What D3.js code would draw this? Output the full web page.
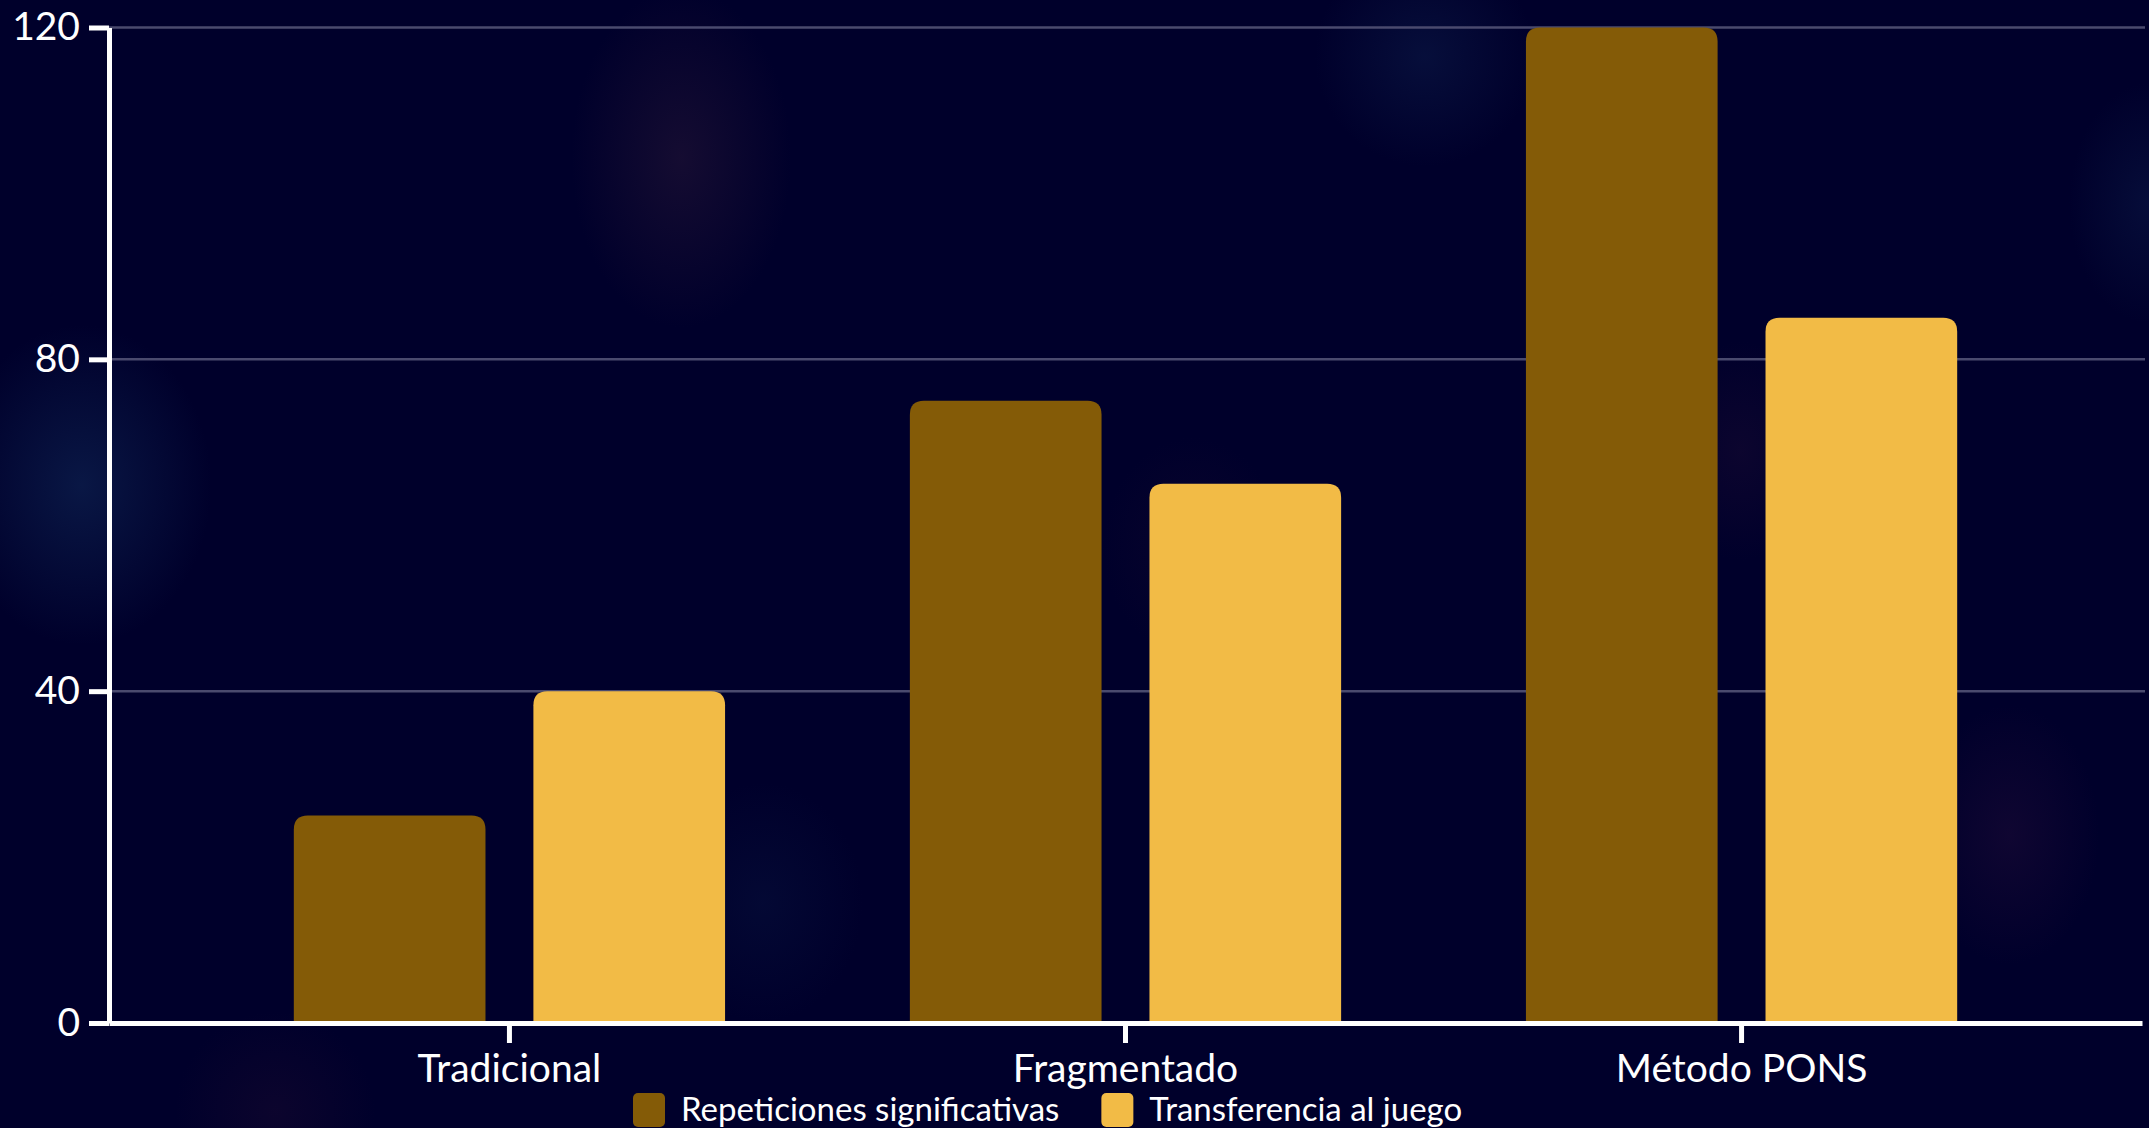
<!DOCTYPE html>
<html lang="es">
<head>
<meta charset="utf-8">
<title>Repeticiones y transferencia por método</title>
<script src="https://cdn.jsdelivr.net/npm/d3@7"></script>
<style>
  html, body { margin: 0; padding: 0; background: #00002b; overflow: hidden; }
  svg { display: block; }
  text { font-family: Lato, "Noto Sans", sans-serif; fill: #ffffff; }
</style>
</head>
<body>
<svg id="chart"></svg>
<script>
// Data
const categories = ["Tradicional", "Fragmentado", "Método PONS"];
const seriesNames = ["Repeticiones significativas", "Transferencia al juego"];
const repeticiones = [25, 75, 120];
const transferencia = [40, 65, 85];
const yTicks = [0, 40, 80, 120];
const seriesColors = ["#845b07", "#f2bb46"];

const W = 2149, H = 1128;
const margin = { top: 27.5, right: 7, bottom: 105, left: 109 };

const svg = d3.select("#chart").attr("width", W).attr("height", H);

// Background with soft nebula glows
const defs = svg.append("defs");
svg.append("rect").attr("width", W).attr("height", H).attr("fill", "#00002b");

const glows = [
  { cx: 0.038, cy: 0.43, rx: 130, ry: 160, color: "#0d2150", a: 0.7 },
  { cx: 0.317, cy: 0.14, rx: 110, ry: 170, color: "#1a0f33", a: 0.8 },
  { cx: 0.663, cy: 0.05, rx: 110, ry: 110, color: "#0c1a48", a: 0.55 },
  { cx: 0.935, cy: 0.74, rx: 90, ry: 130, color: "#1a0a36", a: 0.6 },
  { cx: 0.81, cy: 0.40, rx: 80, ry: 110, color: "#180a32", a: 0.5 },
  { cx: 0.355, cy: 0.80, rx: 100, ry: 120, color: "#0a1845", a: 0.35 },
  { cx: 0.128, cy: 0.985, rx: 100, ry: 100, color: "#1a0a30", a: 0.45 },
  { cx: 0.555, cy: 0.485, rx: 90, ry: 110, color: "#150a30", a: 0.4 },
  { cx: 1.0, cy: 0.18, rx: 80, ry: 120, color: "#0c1a48", a: 0.5 }
];
glows.forEach((g, i) => {
  const grad = defs.append("radialGradient").attr("id", "glow" + i);
  grad.append("stop").attr("offset", "0%").attr("stop-color", g.color).attr("stop-opacity", g.a);
  grad.append("stop").attr("offset", "100%").attr("stop-color", g.color).attr("stop-opacity", 0);
  svg.append("ellipse")
    .attr("cx", g.cx * W).attr("cy", g.cy * H)
    .attr("rx", g.rx).attr("ry", g.ry)
    .attr("fill", `url(#glow${i})`);
});

// Scales
const x0 = d3.scaleBand()
  .domain(categories)
  .range([margin.left, W - margin.right])
  .paddingInner(0.3)
  .paddingOuter(0.3);

const x1 = d3.scaleBand()
  .domain(seriesNames)
  .range([0, x0.bandwidth()])
  .paddingInner(0.2)
  .paddingOuter(0);

const y = d3.scaleLinear()
  .domain([0, 120])
  .range([H - margin.bottom, margin.top]);

const color = d3.scaleOrdinal().domain(seriesNames).range(seriesColors);

// Grid lines
svg.append("g")
  .selectAll("line")
  .data(yTicks.filter(d => d > 0))
  .join("line")
  .attr("x1", margin.left)
  .attr("x2", W - margin.right + 3)
  .attr("y1", d => y(d))
  .attr("y2", d => y(d))
  .attr("stroke", "#4a4a6e")
  .attr("stroke-width", 2.5);

// Bars with rounded top corners
function topRoundedBar(x, yTop, w, h, r) {
  const rr = Math.min(r, w / 2, h);
  return `M${x},${yTop + h}` +
    `V${yTop + rr}` +
    `Q${x},${yTop} ${x + rr},${yTop}` +
    `H${x + w - rr}` +
    `Q${x + w},${yTop} ${x + w},${yTop + rr}` +
    `V${yTop + h}Z`;
}

const rows = categories.map((c, i) => ({
  category: c,
  values: [
    { key: seriesNames[0], value: repeticiones[i] },
    { key: seriesNames[1], value: transferencia[i] }
  ]
}));

svg.append("g")
  .selectAll("g")
  .data(rows)
  .join("g")
  .attr("transform", d => `translate(${x0(d.category)},0)`)
  .selectAll("path")
  .data(d => d.values)
  .join("path")
  .attr("d", d => topRoundedBar(x1(d.key), y(d.value), x1.bandwidth(), y(0) - y(d.value), 14))
  .attr("fill", d => color(d.key));

// Axes
const axisStroke = 5;
const xAxis = svg.append("g")
  .attr("transform", `translate(0,${y(0)})`)
  .call(d3.axisBottom(x0).tickSize(20).tickSizeOuter(0).tickPadding(11));

const yAxis = svg.append("g")
  .attr("transform", `translate(${margin.left},0)`)
  .call(d3.axisLeft(y).tickValues(yTicks).tickFormat(d3.format("d")).tickSize(20).tickSizeOuter(0).tickPadding(9));

[xAxis, yAxis].forEach(ax => {
  ax.select(".domain").attr("stroke", "#ffffff").attr("stroke-width", axisStroke);
  ax.selectAll(".tick line").attr("stroke", "#ffffff").attr("stroke-width", axisStroke);
  ax.selectAll(".tick text")
    .attr("fill", "#ffffff")
    .style("font-family", "Lato, 'Noto Sans', sans-serif")
    .style("font-size", "39px");
});

// Legend
const legend = svg.append("g").attr("transform", `translate(633,${H - 35})`);
let lx = 0;
seriesNames.forEach((name, i) => {
  const item = legend.append("g").attr("transform", `translate(${lx},0)`);
  item.append("rect")
    .attr("width", 32).attr("height", 34).attr("rx", 5)
    .attr("fill", seriesColors[i]);
  const t = item.append("text")
    .attr("x", 48).attr("y", 28)
    .style("font-size", "33px")
    .text(name);
  lx += 48 + t.node().getComputedTextLength() + 42;
});
</script>
</body>
</html>
